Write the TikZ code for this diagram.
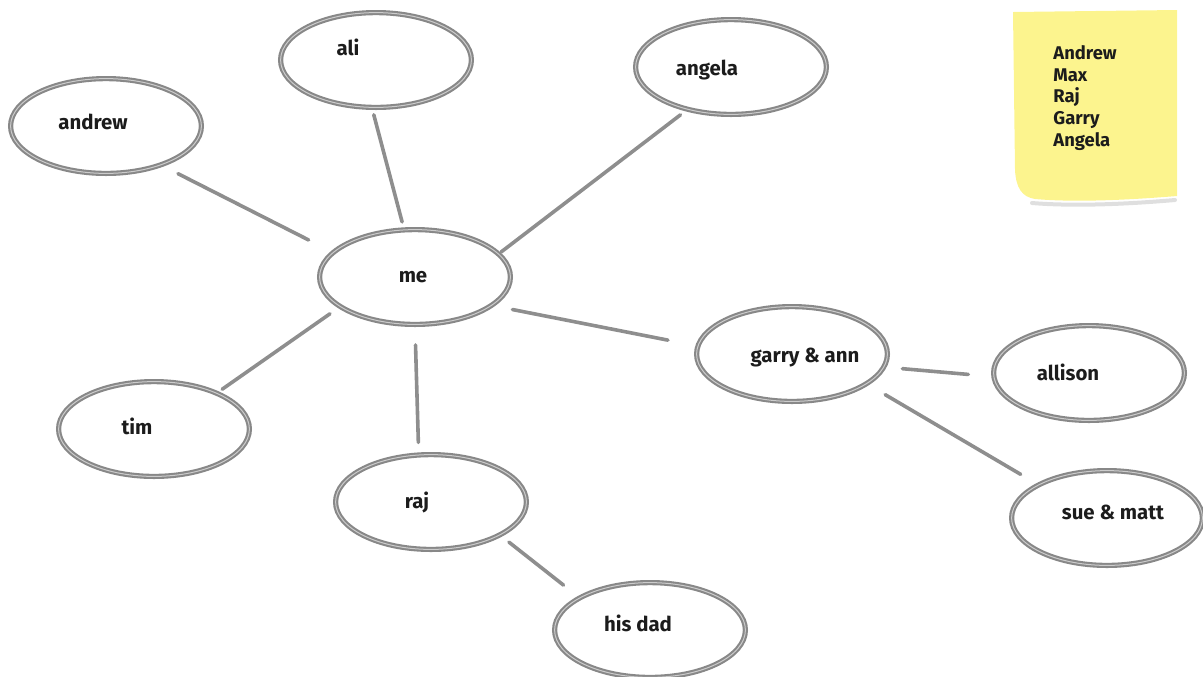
\documentclass[tikz,border=0pt]{standalone}
\usepackage{fontspec}
\setmainfont{Fira Sans}
\usepackage{tikz}
\usetikzlibrary{shapes.geometric}
\usepackage{xcolor}
\definecolor{mapgray}{HTML}{888888}
\definecolor{mapline}{HTML}{8E8E8E}
\definecolor{noteyellow}{HTML}{FCF48E}
\definecolor{inkblack}{HTML}{1C1C1C}

\begin{document}
\begin{tikzpicture}[
  x=0.5pt,y=-0.5pt,
  every node/.style={font=\fontsize{10.2}{12}\selectfont\bfseries,text=inkblack},
  bubble/.style={ellipse,draw=mapgray,line width=2.6pt,minimum width=95.4pt,minimum height=47.4pt,inner sep=0pt,
    postaction={draw=gray!40,line width=0.5pt}},
  link/.style={draw=mapline,line width=1.8pt,line cap=round},
  notetext/.style={align=left,inner sep=0pt,anchor=north west,font=\fontsize{9.2}{10.9}\selectfont\bfseries}
]
\useasboundingbox (0,0) rectangle (1203,676);
% sticky note
\draw[gray!25,line width=2pt,line cap=round] (1032,203) .. controls (1080,207) and (1140,203) .. (1175,200);
\fill[noteyellow] (1013,12) -- (1177,10) -- (1177,196) .. controls (1140,199) and (1080,203) .. (1035,199)
  .. controls (1022,197) and (1016,188) .. (1015,170) -- cycle;
\node[notetext] (list) at (1053,45) {Andrew\\Max\\Raj\\Garry\\Angela};
% people
\node[bubble,label={[shift={(-2,0)}]center:me}] (me) at (415,277) {};
\node[bubble,label={[shift={(-13,-4)}]center:andrew}] (andrew) at (106,126) {};
\node[bubble,label={[shift={(-28,-13)}]center:ali}] (ali) at (376,60) {};
\node[bubble,label={[shift={(-24,3)}]center:angela}] (angela) at (731,67) {};
\node[bubble,label={[shift={(-17,-3)}]center:tim}] (tim) at (154,429) {};
\node[bubble,label={[shift={(-14,0)}]center:raj}] (raj) at (431,502) {};
\node[bubble,label={[shift={(-12,-7)}]center:his dad}] (hisdad) at (650,630) {};
\node[bubble,label={[shift={(13,4)}]center:garry \& ann}] (garry) at (792,354) {};
\node[bubble,label={[shift={(-21,-1)}]center:allison}] (allison) at (1089,373) {};
\node[bubble,label={[shift={(6,-6)}]center:sue \& matt}] (suematt) at (1107,518) {};
% links
\draw[link,shorten <=8pt,shorten >=12.5pt] (andrew.-35) -- (me.163);
\draw[link,shorten <=2.5pt,shorten >=2.8pt] (ali.-94) -- (me.103);
\draw[link,shorten <=3pt,shorten >=0.5pt] (angela.224) -- (me.16);
\draw[link,shorten <=2pt,shorten >=5pt] (tim.30) -- (me.202);
\draw[link,shorten <=5pt,shorten >=9pt] (raj.104) -- (me.-90);
\draw[link,shorten <=14pt,shorten >=9pt] (garry.175) -- (me.-20);
\draw[link,shorten <=4.5pt,shorten >=9pt] (raj.-26) -- (hisdad.155);
\draw[link,shorten <=8pt,shorten >=11.5pt] (garry.-8) -- (allison.182);
\draw[link,shorten <=9.5pt,shorten >=9pt] (garry.-22) -- (suematt.154);
\end{tikzpicture}
\end{document}
